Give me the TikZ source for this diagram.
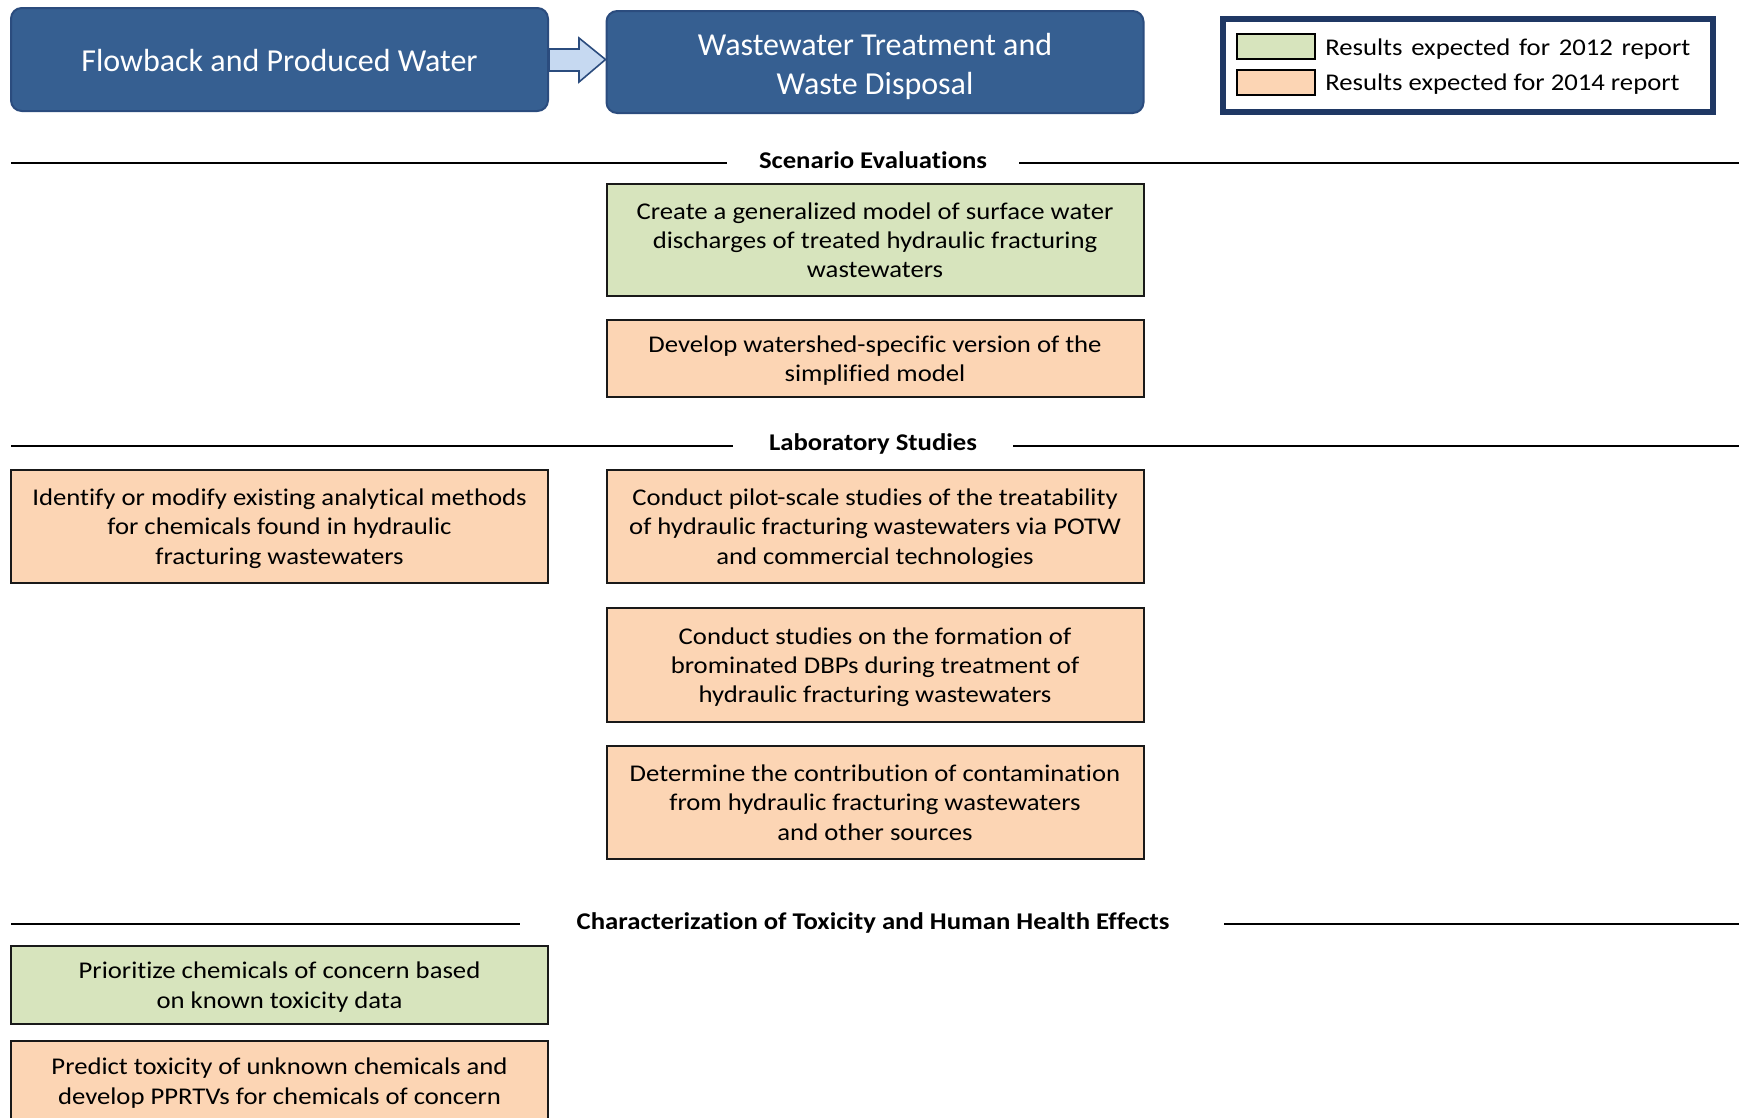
\documentclass[tikz,border=0pt]{standalone}
\usepackage{fontspec}
\setmainfont{Carlito}[Ligatures=NoCommon]
\newfontfamily\widefont[FakeStretch=1.113,Ligatures=NoCommon]{Carlito}
\usetikzlibrary{calc}
\definecolor{topblue}{HTML}{365F91}
\definecolor{topedge}{HTML}{2B4C7E}
\definecolor{arrowfill}{HTML}{C6D9F1}
\definecolor{greenbox}{HTML}{D7E4BD}
\definecolor{orangebox}{HTML}{FCD5B4}
\definecolor{legedge}{HTML}{1F3864}
\tikzset{
  topbox/.style={draw=topedge, line width=1.5pt, fill=topblue, rounded corners=8pt,
    minimum width=537*0.75pt, inner sep=0pt},
  toptext/.style={text=white, align=center, font=\fontsize{24}{29.5}\selectfont, inner sep=0pt},
  taskbox/.style={draw=black!90, line width=1.5pt, align=center,
    font=\widefont\fontsize{18}{22}\selectfont, minimum width=537*0.75pt, inner sep=0pt, text depth=0pt},
  gbox/.style={taskbox, fill=greenbox},
  obox/.style={taskbox, fill=orangebox},
  sectitle/.style={font=\widefont\bfseries\fontsize{18}{21}\selectfont, inner ysep=0pt},
  secline/.style={line width=1.5pt, black},
  swatch/.style={draw=black, line width=1.5pt, minimum width=78*0.75pt, minimum height=25*0.75pt, inner sep=0pt},
  legtext/.style={anchor=west, font=\widefont\fontsize{18}{21}\selectfont, inner sep=0pt},
  blockarrow/.style={draw=topedge, line width=1.2pt, fill=arrowfill, line join=miter}
}
\begin{document}
\begin{tikzpicture}[x=0.75pt, y=-0.75pt]
\clip (0,0) rectangle (1741,1117);
\fill[white] (0,0) rectangle (1741,1117);

% top boxes
\node[topbox, minimum height=103*0.75pt] (flow) at (279.5,59.5) {};
\node[toptext] (flowtext) at ($(flow.center)+(0,1.5)$) {Flowback and Produced Water};
\node[topbox, minimum height=102*0.75pt] (wwt) at (875,62) {};
\node[toptext] (wwttext) at ($(wwt.center)+(0,4.5)$) {Wastewater Treatment and\\Waste Disposal};
\coordinate (tip) at (wwt.west |- flow.east);
\draw[blockarrow] ($(flow.east)+(0,-10.5)$) -- ++(30,0) -- ++(0,-11) -- (tip)
  -- ($(flow.east)+(30,22.5)$) -- ++(0,-11) -- ($(flow.east)+(0,11.5)$) -- cycle;

% legend
\node[draw=legedge, line width=3.8pt, minimum width=490*0.75pt, minimum height=93*0.75pt, inner sep=0pt] (legend) at (1468,65.5) {};
\node[swatch, fill=greenbox] (sw1) at (1276,46.5) {};
\node[swatch, fill=orangebox] (sw2) at (1276,82) {};
\node[legtext] (lt1) at ($(sw1.east)+(9,2.5)$) {Results\hspace{2pt} expected\hspace{2pt} for\hspace{2pt} 2012\hspace{2pt} report};
\node[legtext] (lt2) at ($(sw2.east)+(9,2.5)$) {Results expected for 2014 report};

% Scenario Evaluations
\node[sectitle] (sc) at (873,160) {Scenario Evaluations};
\coordinate (scL) at (11,163);
\coordinate (scR) at (1739,163);
\draw[secline] (scL) -- (727,163);
\draw[secline] (1019,163) -- (scR);
\node[gbox, minimum height=112*0.75pt] (model) at (875,240) {Create a generalized model of surface water\\discharges of treated hydraulic fracturing\\wastewaters};
\node[obox, minimum height=77*0.75pt] (develop) at (875,358.5) {Develop watershed-specific version of the\\simplified model};

% Laboratory Studies
\node[sectitle] (lab) at (873,444) {Laboratory Studies};
\coordinate (labL) at (11,446);
\coordinate (labR) at (1739,446);
\draw[secline] (labL) -- (733,446);
\draw[secline] (1013,446) -- (labR);
\node[obox, minimum height=113*0.75pt] (identify) at (279.5,526.5) {Identify or modify existing analytical methods\\for chemicals found in hydraulic\\fracturing wastewaters};
\node[obox, minimum height=113*0.75pt] (pilot) at (875,526.5) {Conduct pilot-scale studies of the treatability\\of hydraulic fracturing wastewaters via POTW\\and commercial technologies};
\node[obox, minimum height=114*0.75pt] (brom) at (875,665) {Conduct studies on the formation of\\brominated DBPs during treatment of\\hydraulic fracturing wastewaters};
\node[obox, minimum height=113*0.75pt] (determine) at (875,802.5) {Determine the contribution of contamination\\from hydraulic fracturing wastewaters\\and other sources};

% Characterization
\node[sectitle] (char) at (873,923) {Characterization of Toxicity and Human Health Effects};
\coordinate (chL) at (11,924);
\coordinate (chR) at (1739,924);
\draw[secline] (chL) -- (520,924);
\draw[secline] (1224,924) -- (chR);
\node[gbox, minimum height=78*0.75pt, text depth=-2.5pt] (prior) at (279.5,985) {Prioritize chemicals of concern based\\on known toxicity data};
\node[obox, minimum height=80*0.75pt] (predict) at (279.5,1081) {Predict toxicity of unknown chemicals and\\develop PPRTVs for chemicals of concern};
\end{tikzpicture}
\end{document}
